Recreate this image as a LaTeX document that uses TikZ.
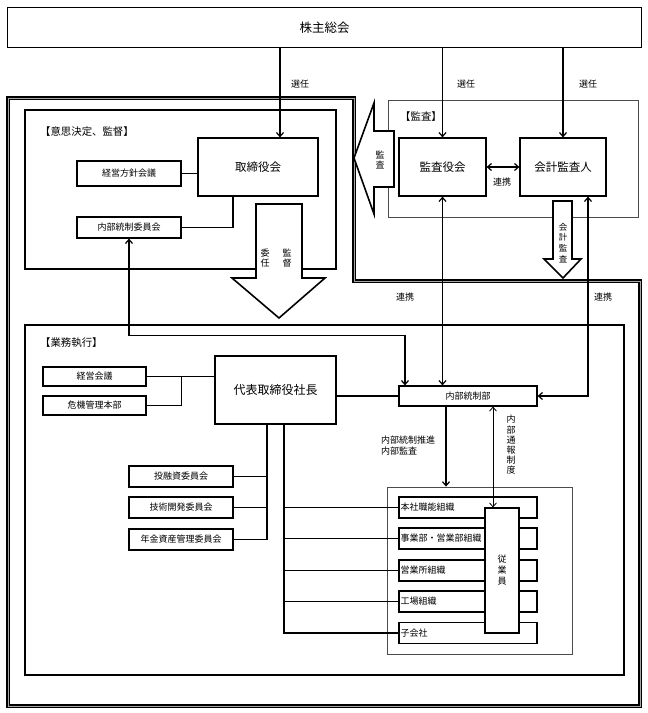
\documentclass[tikz,border=0pt]{standalone}
\usepackage{fontspec}
\newfontfamily\jp{Noto Sans CJK JP}
\usetikzlibrary{arrows.meta}
\tikzset{box/.style = {shape = rectangle, draw, line width = 1.2pt, fill = white, inner sep = 0pt, font = \jp\fontsize{9}{9}\selectfont}}
\tikzset{bigbox/.style = {box, font = \jp\fontsize{11.5}{11.5}\selectfont}}
\tikzset{thinbox/.style = {draw = black!70, line width = 0.8pt}}
\tikzset{frame/.style = {line width = 1.8pt}}
\tikzset{outer/.style = {draw = black, double = gray!70, double distance = 1pt, line width = 1.1pt}}
\tikzset{edge/.style = {-, line width = 1.2pt, > = {Straight Barb[length = 4pt, width = 7pt]}}}
\tikzset{fatarrow/.style = {draw, line width = 1.6pt, fill = white, line join = miter}}
\tikzset{tag/.style = {inner sep = 0pt, align = center, font = \jp\fontsize{9}{10.5}\selectfont}}
\tikzset{head/.style = {inner sep = 0pt, font = \jp\fontsize{10.4}{10.4}\selectfont}}

\begin{document}
\begin{tikzpicture}[x = 1pt, y = -1pt]
	\useasboundingbox (0,0) rectangle (648,713);

	% frames
	\draw[outer] (8,98) -- (354,98) -- (354,281) -- (640,281) -- (640,706) -- (8,706) -- cycle;
	\draw[frame] (25,110) rectangle (336,269);
	\draw[thinbox] (388,100) rectangle (638,217);
	\draw[frame] (25,325) rectangle (624,675);

	\node[box, minimum width = 634pt, minimum height = 40pt, font = \jp\fontsize{12.5}{12.5}\selectfont] (soukai) at (324.5,27.5) {株主総会};

	% decision and supervision
	\node[head, anchor = west] (hkettei) at (40,132) {【意思決定、監督】};
	\node[bigbox, minimum width = 120pt, minimum height = 58pt] (torishimari) at (258,167) {取締役会};
	\node[box, minimum width = 104pt, minimum height = 25pt] (houshin) at (129,173.5) {経営方針会議};
	\node[box, minimum width = 104pt, minimum height = 21pt] (iinkai) at (129,227.5) {内部統制委員会};

	% audit
	\node[head, anchor = west] (hkansa) at (400,117) {【監査】};
	\node[bigbox, minimum width = 87pt, minimum height = 58pt] (kansayaku) at (442.5,167) {監査役会};
	\node[bigbox, minimum width = 86pt, minimum height = 58pt] (kaikei) at (563,167) {会計監査人};

	\draw[fatarrow] (354,158) -- (374,103) -- (374,131) -- (394,131) -- (394,187) -- (374,187) -- (374,214) -- cycle;
	\node[tag] (kansa) at (380,160) {監\\査};
	\draw[fatarrow] (256,204) -- (302,204) -- (302,278) -- (325,278) -- (279,318) -- (232,278) -- (256,278) -- cycle;
	\node[tag, font = \jp\fontsize{9}{10}\selectfont] (inin) at (265,258) {委\\任};
	\node[tag, font = \jp\fontsize{9}{10}\selectfont] (kantoku) at (287,258) {監\\督};
	\draw[fatarrow] (553,201) -- (572,201) -- (572,259) -- (581,259) -- (563,278) -- (544,259) -- (553,259) -- cycle;
	\node[tag, font = \jp\fontsize{8.5}{10.7}\selectfont] (kaikeikansa) at (563,243) {会\\計\\監\\査};

	% execution
	\node[head, anchor = west] (hgyoumu) at (40,343) {【業務執行】};
	\node[box, minimum width = 103pt, minimum height = 19pt] (keieikaigi) at (94.5,376.5) {経営会議};
	\node[box, minimum width = 103pt, minimum height = 19pt] (kiki) at (94.5,405.5) {危機管理本部};
	\node[box, minimum width = 121pt, minimum height = 68pt, font = \jp\fontsize{12}{12}\selectfont] (daihyo) at (275.5,390) {代表取締役社長};
	\node[box, minimum width = 138pt, minimum height = 20pt] (naibu) at (468,396) {内部統制部};
	\node[box, minimum width = 104pt, minimum height = 21pt] (toyushi) at (181,476.5) {投融資委員会};
	\node[box, minimum width = 104pt, minimum height = 21pt] (gijutsu) at (181,507.5) {技術開発委員会};
	\node[box, minimum width = 104pt, minimum height = 21pt] (nenkin) at (181,539.5) {年金資産管理委員会};

	\node[thinbox, inner sep = 0pt, minimum width = 185pt, minimum height = 167pt] (kaisha) at (479.5,570.5) {};
	\foreach \name/\y/\txt in {honsha/507.5/本社職能組織, jigyo/538.5/事業部・営業部組織, eigyo/570.5/営業所組織, kojo/601.5/工場組織, kogaisha/633/子会社}
	{
		\node[box, minimum width = 138pt, minimum height = 21pt] (\name) at (468,\y) {};
		\node[tag, anchor = west] (\name-t) at ([xshift = 2pt]\name.west) {\txt};
	}
	\node[box, minimum width = 34pt, minimum height = 125pt, align = center, font = \jp\fontsize{9}{11}\selectfont] (jugyoin) at (502,570.5) {従\\業\\員};

	% connectors
	\draw[edge, ->] ([xshift = 22pt]torishimari.north |- soukai.south) -- ([xshift = 22pt]torishimari.north);
	\draw[edge, ->] (kansayaku.north |- soukai.south) -- (kansayaku.north);
	\draw[edge, ->] (kaikei.north |- soukai.south) -- (kaikei.north);
	\draw[edge] (houshin.east) -- (torishimari.west |- houshin.east);
	\draw[edge] ([xshift = -25pt]torishimari.south) |- (iinkai.east);
	\draw[edge, <->] (kansayaku.east) -- (kaikei.west);
	\draw[edge, <->] (kansayaku.south) -- (kansayaku.south |- naibu.north);
	\draw[edge, <->] ([xshift = 25pt]kaikei.south) |- (naibu.east);
	\draw[edge, <->] (iinkai.south) -- ++(0,97) -| ([xshift = -63pt]naibu.north);

	\draw[edge] (keieikaigi.east) -- (daihyo.west |- keieikaigi.east);
	\draw[edge] (kiki.east) -| ([xshift = 35pt]keieikaigi.east);
	\draw[edge] (daihyo.east |- naibu.west) -- (naibu.west);
	\draw[edge] ([xshift = -8.5pt]daihyo.south) |- (nenkin.east);
	\draw[edge] (toyushi.east) -- ([xshift = -8.5pt]daihyo.south |- toyushi.east);
	\draw[edge] (gijutsu.east) -- ([xshift = -8.5pt]daihyo.south |- gijutsu.east);
	\draw[edge] ([xshift = 8.5pt]daihyo.south) |- (kogaisha.west);
	\foreach \name in {honsha, jigyo, eigyo, kojo}
		\draw[edge] (\name.west) -- ([xshift = 8.5pt]daihyo.south |- \name.west);
	\draw[edge, ->] ([xshift = -22pt]naibu.south) -- ([xshift = -22pt]naibu.south |- kaisha.north);
	\draw[edge, <->, line width = 0.8pt] ([xshift = 25pt]naibu.south) -- ([xshift = 25pt]naibu.south |- jugyoin.north);

	% labels
	\node[tag] (senin1) at (300,84) {選任};
	\node[tag] (senin2) at (466,84) {選任};
	\node[tag] (senin3) at (588,84) {選任};
	\node[tag] (renkei1) at (502,182) {連携};
	\node[tag] (renkei2) at (405,297) {連携};
	\node[tag] (renkei3) at (603,297) {連携};
	\node[tag, anchor = west, align = left, font = \jp\fontsize{9}{11}\selectfont] (suishin) at (381,446) {内部統制推進\\内部監査};
	\node[tag, font = \jp\fontsize{9}{10.2}\selectfont] (tsuho) at (511,445) {内\\部\\通\\報\\制\\度};
\end{tikzpicture}
\end{document}
